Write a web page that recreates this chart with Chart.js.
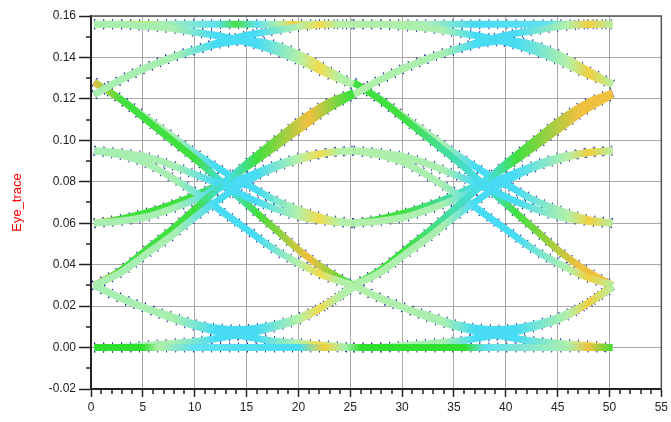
<!DOCTYPE html>
<html>
<head>
<meta charset="utf-8">
<script src="https://cdn.jsdelivr.net/npm/chart.js@4"></script>
<style>
  html, body { margin: 0; padding: 0; background: #fff; }
  #wrap { width: 671px; height: 422px; }
</style>
</head>
<body>
<div id="wrap"><canvas id="chart"></canvas></div>
<script>
// sample positions of the two unit intervals shown in the eye
const uiA = [0.3, 2.8, 5.3, 7.8, 10.3, 12.8, 15.3, 17.8, 20.3, 22.8, 25.3];
const uiB = [25.3, 27.8, 30.3, 32.8, 35.3, 37.8, 40.3, 42.8, 45.3, 47.8, 50.3];

const seg0000 = [0.000, 0.000, 0.000, 0.000, 0.000, 0.000, 0.000, 0.000, 0.000, 0.000, 0.000];
const seg0001 = [0.000, 0.000, 0.001, 0.002, 0.003, 0.005, 0.007, 0.010, 0.014, 0.021, 0.030];
const seg0010 = [0.030, 0.036, 0.045, 0.054, 0.064, 0.073, 0.081, 0.087, 0.091, 0.094, 0.095];
const seg0011 = [0.030, 0.037, 0.047, 0.057, 0.068, 0.079, 0.090, 0.100, 0.110, 0.118, 0.123];
const seg0100 = [0.095, 0.093, 0.089, 0.082, 0.074, 0.065, 0.056, 0.047, 0.040, 0.034, 0.030];
const seg0101 = [0.095, 0.094, 0.092, 0.088, 0.083, 0.078, 0.072, 0.067, 0.063, 0.061, 0.060];
const seg0110 = [0.122, 0.129, 0.135, 0.140, 0.144, 0.147, 0.148, 0.146, 0.141, 0.134, 0.127];
const seg0111 = [0.122, 0.129, 0.135, 0.140, 0.144, 0.148, 0.151, 0.153, 0.155, 0.156, 0.156];
const seg1000 = [0.030, 0.024, 0.019, 0.014, 0.010, 0.007, 0.005, 0.003, 0.002, 0.001, 0.000];
const seg1001 = [0.030, 0.024, 0.019, 0.015, 0.011, 0.009, 0.009, 0.011, 0.015, 0.021, 0.029];
const seg1010 = [0.060, 0.061, 0.063, 0.067, 0.072, 0.078, 0.083, 0.088, 0.092, 0.094, 0.095];
const seg1011 = [0.060, 0.062, 0.065, 0.069, 0.074, 0.080, 0.088, 0.097, 0.106, 0.115, 0.122];
const seg1100 = [0.128, 0.120, 0.110, 0.100, 0.090, 0.079, 0.068, 0.057, 0.046, 0.037, 0.030];
const seg1101 = [0.128, 0.120, 0.111, 0.102, 0.093, 0.085, 0.078, 0.071, 0.066, 0.062, 0.060];
const seg1110 = [0.156, 0.156, 0.155, 0.154, 0.152, 0.150, 0.147, 0.143, 0.138, 0.132, 0.127];
const seg1111 = [0.156, 0.156, 0.156, 0.156, 0.156, 0.156, 0.156, 0.156, 0.156, 0.156, 0.156];

const xTicks = [0, 5, 10, 15, 20, 25, 30, 35, 40, 45, 50, 55];
const yTicks = [-0.02, 0, 0.02, 0.04, 0.06, 0.08, 0.10, 0.12, 0.14, 0.16];

// colour stops along x (density-style colouring of the eye)
const flatTop = [[0, '#c4ec5c'], [4, '#c4ec5c'], [7, '#a8eeb4'], [12, '#60e0f0'], [14, '#48e048'], [16, '#60e0f0'],
  [18, '#b0f0a8'], [19.5, '#f0cc48'], [21, '#b8f0a0'], [28, '#c0f090'], [33, '#a0ecc0'], [37, '#48dcf4'],
  [44, '#60e0f0'], [46, '#b0f0a0'], [48, '#f0c040'], [50.5, '#c8f080']];
const flatBottom = [[0, '#30e030'], [5, '#30e030'], [6.5, '#b0f0a8'], [10, '#60e0f0'], [20, '#48dcf4'], [22.5, '#f0d040'],
  [24.5, '#a8eeb0'], [26, '#30e030'], [36, '#30e030'], [38, '#60e0f0'], [46, '#a8eeb0'], [48, '#f0c040'], [50.5, '#30e030']];
const sCurve = [[0, '#f0c040'], [3, '#40e040'], [10, '#40e040'], [13, '#48dcf4'], [16, '#40e040'], [21, '#f0c040'],
  [25, '#40e040'], [30, '#40e040'], [38, '#48dcf4'], [41, '#40e040'], [47, '#f0c040'], [50.5, '#f0c040']];
const soft = [[0, '#a8eeb0'], [8, '#a8eeb0'], [12, '#48dcf4'], [16, '#48dcf4'], [20, '#b4f0a8'], [22, '#f0dc50'],
  [24, '#b4f0a8'], [34, '#a8eeb0'], [37, '#48dcf4'], [41, '#48dcf4'], [46, '#b4f0a8'], [48, '#f0d040'], [50.5, '#b4f0a8']];

const traces = [
  [seg0000, flatBottom], [seg0001, soft], [seg0010, soft], [seg0011, sCurve],
  [seg0100, soft], [seg0101, soft], [seg0110, soft], [seg0111, soft],
  [seg1000, soft], [seg1001, soft], [seg1010, soft], [seg1011, sCurve],
  [seg1100, sCurve], [seg1101, soft], [seg1110, soft], [seg1111, flatTop]
];

function gradient(chart, stops) {
  const { ctx, chartArea: a, scales } = chart;
  const g = ctx.createLinearGradient(a.left, 0, a.right, 0);
  stops.forEach(([v, c]) => {
    const p = (scales.x.getPixelForValue(v) - a.left) / (a.right - a.left);
    g.addColorStop(Math.min(1, Math.max(0, p)), c);
  });
  return g;
}

const datasets = [];
[uiA, uiB].forEach(xs => {
  traces.forEach(([ys, stops]) => {
    const pts = xs.map((x, i) => ({ x: x, y: ys[i] }));
    // dark speckle along the band edges
    datasets.push({
      data: pts, order: 1, borderWidth: 10, borderColor: '#1c2c9c', borderDash: [1, 8],
      pointRadius: 0, tension: 0.35, fill: false
    });
    datasets.push({
      data: pts, order: 0, borderWidth: 7,
      borderColor: c => c.chart.chartArea ? gradient(c.chart, stops) : '#a8eeb0',
      pointRadius: 0, tension: 0.35, fill: false
    });
  });
});

const frameAndMinor = {
  id: 'frameAndMinor',
  afterDraw(chart) {
    const { ctx, chartArea: a, scales: { x, y } } = chart;
    ctx.save();
    ctx.strokeStyle = '#222';
    ctx.lineWidth = 1.5;
    ctx.beginPath();
    for (let v = 1; v < 55; v++) {
      if (v % 5 === 0) continue;
      const px = Math.round(x.getPixelForValue(v));
      ctx.moveTo(px, a.bottom);
      ctx.lineTo(px, a.bottom + 5);
    }
    for (let k = 0; k < 9; k++) {
      const py = Math.round(y.getPixelForValue(-0.01 + k * 0.02));
      ctx.moveTo(a.left - 5, py);
      ctx.lineTo(a.left, py);
    }
    ctx.stroke();
    ctx.strokeStyle = '#555';
    ctx.beginPath();
    ctx.moveTo(a.left, a.top);
    ctx.lineTo(a.right, a.top);
    ctx.lineTo(a.right, a.bottom);
    ctx.stroke();
    ctx.restore();
  }
};

const tickFont = { family: 'Liberation Sans, Arial, sans-serif', size: 12 };

new Chart(document.getElementById('chart'), {
  type: 'line',
  data: { datasets: datasets },
  plugins: [frameAndMinor],
  options: {
    responsive: true,
    maintainAspectRatio: false,
    animation: false,
    layout: { padding: { top: 16, right: 6, left: 0, bottom: 0 } },
    plugins: { legend: { display: false }, tooltip: { enabled: false } },
    scales: {
      x: {
        type: 'linear', min: 0, max: 55,
        afterBuildTicks: s => { s.ticks = xTicks.map(v => ({ value: v })); },
        afterFit: s => { s.height = 33; },
        ticks: { font: tickFont, color: '#222', padding: 3, maxRotation: 0, callback: v => String(v) },
        grid: { color: '#a8a8a8', lineWidth: 1, tickLength: 8, tickColor: '#222', tickWidth: 1.5 },
        border: { color: '#222', width: 2 }
      },
      y: {
        type: 'linear', min: -0.02, max: 0.16,
        afterBuildTicks: s => { s.ticks = yTicks.map(v => ({ value: v })); },
        afterFit: s => { s.width = 91; },
        ticks: { font: tickFont, color: '#222', padding: 3, callback: v => v.toFixed(2) },
        grid: { color: '#a8a8a8', lineWidth: 1, tickLength: 12, tickColor: '#222', tickWidth: 1.5 },
        border: { color: '#222', width: 2 },
        title: {
          display: true, text: 'Eye_trace', color: '#ff0000',
          font: { family: 'Liberation Sans, Arial, sans-serif', size: 13 },
          padding: { top: 10, bottom: 0 }
        }
      }
    }
  }
});
</script>
</body>
</html>
